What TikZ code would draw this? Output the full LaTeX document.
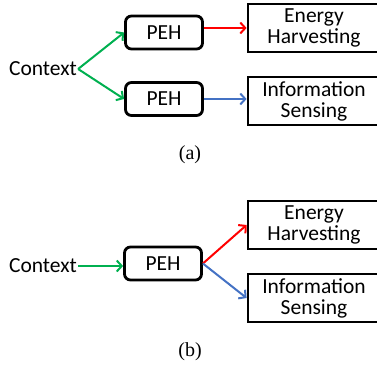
\documentclass[tikz,border=0pt]{standalone}
\usepackage{fontspec}
\newfontfamily\calibri{Carlito}
\newfontfamily\capserif{Liberation Serif}
\usetikzlibrary{arrows.meta,positioning}
\definecolor{ctxgreen}{RGB}{0,176,80}
\definecolor{ehred}{RGB}{255,0,0}
\definecolor{isblue}{RGB}{68,114,196}
\tikzset{
  ctx/.style={inner sep=1pt, font=\calibri\fontsize{21.5}{22}\selectfont},
  peh/.style={draw, rounded corners=6pt, line width=2.8pt, minimum width=77pt, minimum height=33pt, font=\calibri\fontsize{21.5}{22}\selectfont},
  task/.style={draw, rectangle, line width=2.8pt, minimum width=132pt, minimum height=48pt, inner sep=1pt, align=center, font=\calibri\fontsize{21.5}{21}\selectfont},
  subcap/.style={font=\capserif\fontsize{20}{20}\selectfont},
  arr/.style={line width=2pt, -{Straight Barb[length=5pt,width=11pt]}},
}
\begin{document}
\begin{tikzpicture}[x=1pt, y=-1pt]
\useasboundingbox (0,0) rectangle (377,369);
% (a)
\node[ctx] (ctxA) at (43,69) {Context};
\node[peh] (pehA1) at (164,32.5) {PEH};
\node[peh] (pehA2) at (164,99) {PEH};
\node[task] (ehA) at (314,28) {Energy\\Harvesting};
\node[task] (isA) at (314,101) {Information\\Sensing};
\node[subcap] (capA) at (190,155) {(a)};
\draw[arr, ctxgreen] (ctxA.east) -- (pehA1.west);
\draw[arr, ctxgreen] (ctxA.east) -- (pehA2.west);
\draw[arr, ehred] (ehA.west -| pehA1.east) -- (ehA.west);
\draw[arr, isblue] (pehA2.east) -- (pehA2.east -| isA.west);
% (b)
\node[ctx] (ctxB) at (43,266) {Context};
\node[peh] (pehB) at (163,263.5) {PEH};
\node[task] (ehB) at (314,225) {Energy\\Harvesting};
\node[task] (isB) at (314,298) {Information\\Sensing};
\node[subcap] (capB) at (190,352) {(b)};
\draw[arr, ctxgreen] (ctxB.east) -- (ctxB.east -| pehB.west);
\draw[arr, ehred] (pehB.east) -- (ehB.west);
\draw[arr, isblue] (pehB.east) -- (isB.west);
\end{tikzpicture}
\end{document}
